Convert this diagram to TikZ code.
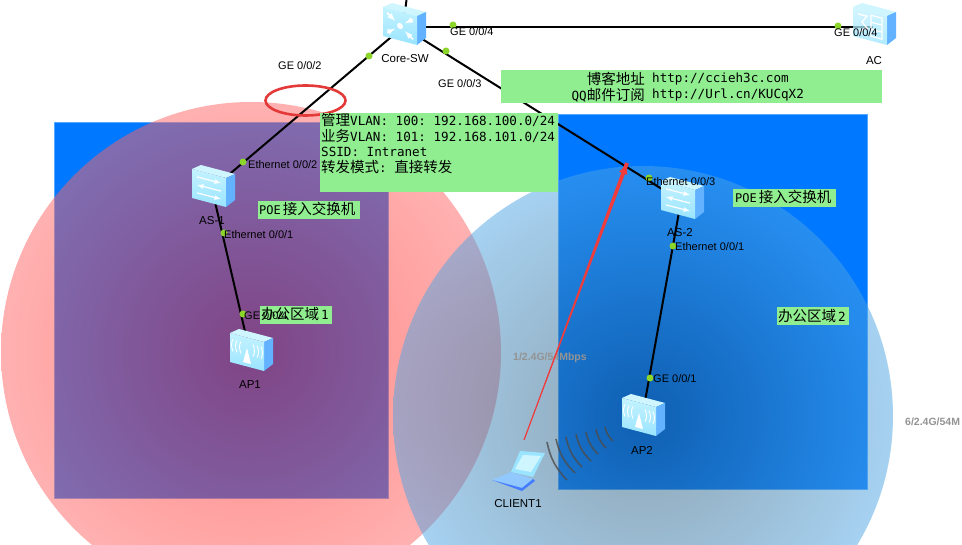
\documentclass[tikz,border=0pt]{standalone}
\usepackage{fontspec}
\usetikzlibrary{calc,arrows.meta}
\setmainfont{Liberation Sans}
\setmonofont{DejaVu Sans Mono}
\newfontfamily\cjk{Noto Sans CJK SC}
\definecolor{redcore}{RGB}{255,18,12}
\definecolor{redrim}{RGB}{255,100,100}
\definecolor{bluecore}{RGB}{30,72,100}
\definecolor{bluerim}{RGB}{78,165,228}
\pgfdeclareradialshading{redzone}{\pgfpoint{0bp}{0bp}}{color(0bp)=(redcore); color(25bp)=(redrim); color(50bp)=(redrim)}
\pgfdeclareradialshading{bluezone}{\pgfpoint{0bp}{0bp}}{color(0bp)=(bluecore); color(25bp)=(bluerim); color(50bp)=(bluerim)}
\definecolor{notegreen}{HTML}{90EE90}
\definecolor{zoneblue}{HTML}{0078FF}
\definecolor{zoneedge}{HTML}{55A8FF}
\definecolor{portgreen}{HTML}{8CD62C}
\definecolor{boxtop}{HTML}{CFF6FF}
\definecolor{boxfronta}{HTML}{C4F3FF}
\definecolor{boxfrontb}{HTML}{9AE4FF}
\definecolor{boxside}{HTML}{62B2FF}
\definecolor{arrowred}{HTML}{F03C3C}
\tikzset{
    link/.style={line width=2pt,black},
    zonerect/.style={fill=zoneblue,draw=zoneedge,line width=0.8pt},
    portdot/.style={circle,fill=portgreen,inner sep=0pt,minimum size=7pt},
    portlabel/.style={inner sep=0pt,font=\fontsize{11}{12}\selectfont,text=black},
    devlabel/.style={inner sep=0pt,font=\fontsize{11.5}{12}\selectfont,text=black},
    ratelabel/.style={inner sep=0pt,font=\fontsize{10.5}{12}\selectfont\bfseries,text=black!42},
    notebox/.style={fill=notegreen,draw=none},
    notetext/.style={inner sep=0pt,font=\fontsize{12.6}{15.7}\selectfont\ttfamily},
    radio/.style={line width=1.6pt,black!70,opacity=0.8},
}
\newcommand{\zh}[1]{{\cjk\fontsize{14.5}{15.7}\selectfont #1}}
%% 3D box of a device, #2 is the mark on its front face
\newcommand{\devbox}[3][1]{
    \begin{scope}[shift={(#2)}]
        \fill[boxtop] (-20,-20) -- (-11,-24) -- (23,-15) -- (14,-11) -- cycle;
        \fill[boxside] (14,-11) -- (23,-15) -- (23,11) -- (14,18) -- cycle;
        \shade[top color=boxfronta,bottom color=boxfrontb,opacity=#1] (-20,-20) -- (14,-11) -- (14,18) -- (-20,9) -- cycle;
        \begin{scope}[shift={(-3,-1)},yslant=-0.26]
            #3
        \end{scope}
    \end{scope}
}
\newcommand{\coremark}{
    \fill[white] (0,0) circle [radius=3pt];
    \draw[white,line width=1.6pt,latex-] (-5,-4) -- (-13,-10);
    \draw[white,line width=1.6pt,latex-] (5,-4) -- (13,-10);
    \draw[white,line width=1.6pt,latex-] (-5,4) -- (-13,10);
    \draw[white,line width=1.6pt,latex-] (5,4) -- (13,10);
}
\newcommand{\accessmark}{
    \draw[white,line width=1.2pt,-latex] (-12,-8) -- (12,-8);
    \draw[white,line width=1.2pt,latex-] (-12,0) -- (12,0);
    \draw[white,line width=1.2pt,-latex] (-12,8) -- (12,8);
}
\newcommand{\apmark}{
    \fill[white] (0,-4) -- (4,11) -- (-4,11) -- cycle;
    \foreach \r in {6,10,14}{
        \draw[white,line width=0.9pt] (-\r,-9) .. controls (-\r-2,-5) and (-\r-2,-1) .. (-\r,3);
        \draw[white,line width=0.9pt] (\r,-9) .. controls (\r+2,-5) and (\r+2,-1) .. (\r,3);
    }
}
\newcommand{\acmark}{
    \draw[white,line width=1.4pt] (-12,-9) -- (-3,-9) -- (-8,-2) -- (-3,3) -- (-12,9);
    \draw[white,line width=1.2pt] (1,-11) rectangle (12,10);
    \draw[white,line width=1.2pt] (1,-4) -- (12,-4) (1,3) -- (12,3);
}
\begin{document}
\begin{tikzpicture}[x=1pt,y=-1pt]
    \clip (0,0) rectangle (962,545);
    \fill[white] (0,0) rectangle (962,545);
    %% office areas
    \filldraw[zonerect] (54,122) rectangle (388,498);
    \filldraw[zonerect] (558,114) rectangle (867,489);
    \shade[shading=redzone,opacity=0.5] (251,352) circle [radius=250pt];
    \shade[shading=bluezone,opacity=0.5] (643,416) circle [radius=250pt];
    %% device positions
    \coordinate (coresw) at (403,27);
    \coordinate (uplink) at (407,-4);
    \coordinate (acsw) at (873,27);
    \coordinate (asone) at (212,189);
    \coordinate (astwo) at (681,201);
    \coordinate (apone) at (250,353);
    \coordinate (aptwo) at (642,418);
    \coordinate (wifitail) at (524,440);
    \coordinate (wifitip) at (627,163);
    %% links
    \draw[link] (coresw) -- (uplink);
    \draw[link] (coresw) -- (acsw);
    \draw[link] (coresw) -- (asone);
    \draw[link] (coresw) -- (astwo);
    \draw[link] (asone) -- (apone);
    \draw[link] (astwo) -- (aptwo);
    \draw[arrowred!95!black,line width=2.6pt] (305.5,100.5) ellipse [x radius=40pt,y radius=15pt];
    %% notes
    \fill[notebox] (501,70) rectangle (882,103);
    \fill[notebox] (320,113) rectangle (558,192);
    \fill[notebox] (258,201) rectangle (360,219);
    \fill[notebox] (733,189) rectangle (836,207);
    \fill[notebox] (260,306) rectangle (332,324);
    \fill[notebox] (777,307) rectangle (849,325);
    \node[notetext,anchor=north west,align=left] (infonote) at (321,113) {\zh{管理}VLAN: 100: 192.168.100.0/24\\\zh{业务}VLAN: 101: 192.168.101.0/24\\SSID: Intranet\\\zh{转发模式}: \zh{直接转发}};
    \node[notetext,anchor=east,align=right] (blogname) at (645,87) {\zh{博客地址}\\QQ\zh{邮件订阅}};
    \node[notetext,anchor=west,align=left] (blogurl) at (652,87) {http://ccieh3c.com\\http://Url.cn/KUCqX2};
    \node[notetext,anchor=west,font=\fontsize{12}{14}\selectfont\ttfamily] (poeone) at (259,209) {POE\hspace{2pt}\zh{接入交换机}};
    \node[notetext,anchor=west,font=\fontsize{12}{14}\selectfont\ttfamily] (poetwo) at (735,197) {POE\hspace{2pt}\zh{接入交换机}};
    \node[notetext,anchor=west] (areaone) at (261,314) {\zh{办公区域}\hspace{2pt}1};
    \node[notetext,anchor=west] (areatwo) at (778,316) {\zh{办公区域}\hspace{2pt}2};
    %% devices
    \devbox{coresw}{\coremark}
    \devbox[0.75]{acsw}{\acmark}
    \devbox{asone}{\accessmark}
    \devbox{astwo}{\accessmark}
    \devbox{apone}{\apmark}
    \devbox{aptwo}{\apmark}
    %% client
    \fill[boxfrontb] (520,451) -- (545,453) -- (533,477) -- (511,472) -- cycle;
    \fill[boxtop] (523,455) -- (541,456) -- (531,472) -- (515,469) -- cycle;
    \fill[boxside!70!white] (492,480) -- (511,472) -- (533,479) -- (522,488) -- cycle;
    \fill[boxside!70!blue] (492,480) -- (522,488) -- (533,479) -- (535,481) -- (522,491) -- cycle;
    %% radio waves
    \foreach \wa/\wb/\wc/\wd in {547/442/567/480,556/439/575/473,566/437/582/467,576/434/591/461,586/432/598/454,596/429/606/448,605/427/613/441}{
        \draw[radio] (\wa,\wb) to[bend right=16] (\wc,\wd);
    }
    %% port dots
    \node[portdot] (dotcorea) at (453,25) {};
    \node[portdot] (dotcoreb) at (369,56) {};
    \node[portdot] (dotcorec) at (446,51) {};
    \node[portdot] (dotac) at (838,26) {};
    \node[portdot] (dotasa) at (243,162) {};
    \node[portdot] (dotasb) at (224,233) {};
    \node[portdot] (dotapa) at (243,314) {};
    \node[portdot] (dotasc) at (649,178) {};
    \node[portdot] (dotasd) at (673,246) {};
    \node[portdot] (dotapb) at (650,378) {};
    %% labels
    \node[portlabel,anchor=west] (gecorea) at (450,32) {GE 0/0/4};
    \node[portlabel,anchor=west] (gecoreb) at (278,66) {GE 0/0/2};
    \node[portlabel,anchor=west] (gecorec) at (438,84) {GE 0/0/3};
    \node[portlabel,anchor=west] (geac) at (834,33) {GE 0/0/4};
    \node[portlabel,anchor=west] (ethasa) at (248,165) {Ethernet 0/0/2};
    \node[portlabel,anchor=west] (ethasb) at (224,235) {Ethernet 0/0/1};
    \node[portlabel,anchor=west] (geapa) at (244,316) {GE 0/0/4};
    \node[portlabel,anchor=west] (ethasc) at (646,182) {Ethernet 0/0/3};
    \node[portlabel,anchor=west] (ethasd) at (675,247) {Ethernet 0/0/1};
    \node[portlabel,anchor=west] (geapb) at (653,379) {GE 0/0/1};
    \node[devlabel] (namecore) at (405,59) {Core-SW};
    \node[devlabel] (nameac) at (874,61) {AC};
    \node[devlabel] (nameasa) at (212,221) {AS-1};
    \node[devlabel] (nameasb) at (680,233) {AS-2};
    \node[devlabel] (nameapa) at (250,385) {AP1};
    \node[devlabel] (nameapb) at (642,450) {AP2};
    \node[devlabel] (nameclient) at (518,504) {CLIENT1};
    \node[ratelabel,anchor=west] (rateone) at (513,358) {1/2.4G/54Mbps};
    \node[ratelabel,anchor=west] (ratetwo) at (905,422) {6/2.4G/54M};
    %% client association
    \fill[arrowred] (wifitail) -- ($(wifitip)!2pt!90:(wifitail)$) -- ($(wifitip)!2pt!-90:(wifitail)$) -- cycle;
    \draw[arrowred,line width=1.2pt,-{Latex[length=11pt,width=9pt]}] (wifitail) -- (wifitip);
\end{tikzpicture}
\end{document}
